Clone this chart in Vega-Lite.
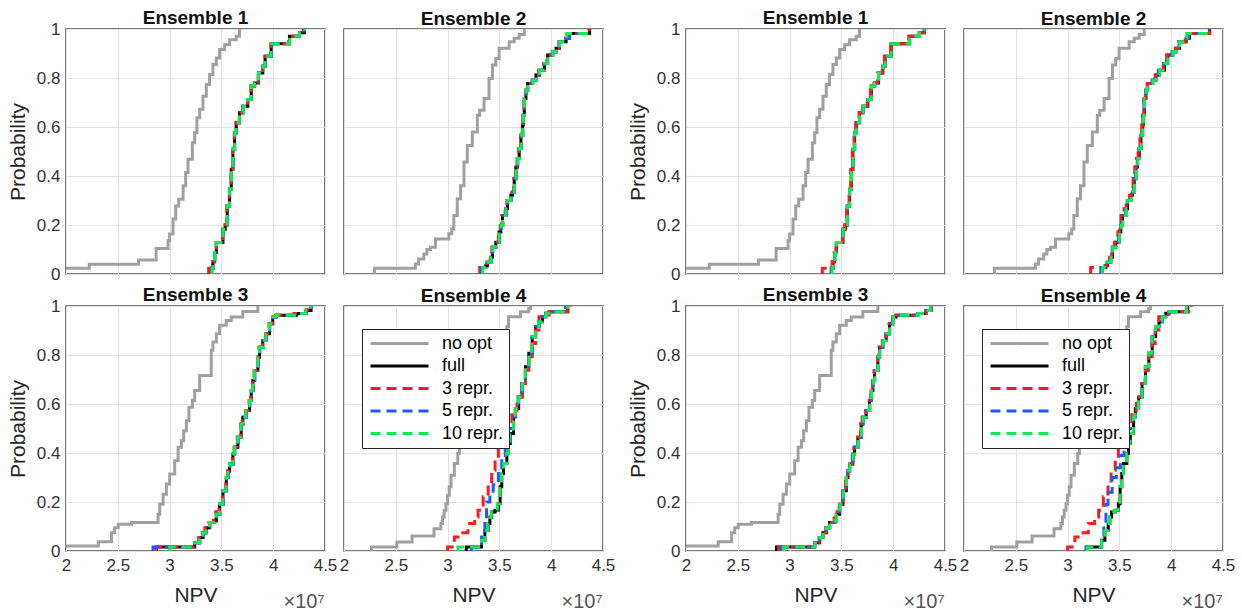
{
"$schema": "https://vega.github.io/schema/vega-lite/v6.json",
"padding": {"left": 6, "top": 7, "right": 5, "bottom": 0},
"datasets": {"d": [
{"k":"1","s":"no opt","x":2,"p":0.023},{"k":"1","s":"no opt","x":2.225,"p":0.04},{"k":"1","s":"no opt","x":2.7,"p":0.057},{"k":"1","s":"no opt","x":2.87,"p":0.104},{"k":"1","s":"no opt","x":2.985,"p":0.136},{"k":"1","s":"no opt","x":3.0,"p":0.163},{"k":"1","s":"no opt","x":3.033,"p":0.224},{"k":"1","s":"no opt","x":3.059,"p":0.278},{"k":"1","s":"no opt","x":3.088,"p":0.305},{"k":"1","s":"no opt","x":3.13,"p":0.36},{"k":"1","s":"no opt","x":3.155,"p":0.414},{"k":"1","s":"no opt","x":3.178,"p":0.468},{"k":"1","s":"no opt","x":3.22,"p":0.536},{"k":"1","s":"no opt","x":3.242,"p":0.577},{"k":"1","s":"no opt","x":3.264,"p":0.638},{"k":"1","s":"no opt","x":3.29,"p":0.672},{"k":"1","s":"no opt","x":3.322,"p":0.726},{"k":"1","s":"no opt","x":3.354,"p":0.773},{"k":"1","s":"no opt","x":3.386,"p":0.814},{"k":"1","s":"no opt","x":3.418,"p":0.855},{"k":"1","s":"no opt","x":3.451,"p":0.882},{"k":"1","s":"no opt","x":3.483,"p":0.916},{"k":"1","s":"no opt","x":3.531,"p":0.936},{"k":"1","s":"no opt","x":3.579,"p":0.956},{"k":"1","s":"no opt","x":3.643,"p":0.97},{"k":"1","s":"no opt","x":3.675,"p":1},
{"k":"2","s":"no opt","x":2.294,"p":0},{"k":"2","s":"no opt","x":2.294,"p":0.023},{"k":"2","s":"no opt","x":2.689,"p":0.041},{"k":"2","s":"no opt","x":2.72,"p":0.061},{"k":"2","s":"no opt","x":2.77,"p":0.082},{"k":"2","s":"no opt","x":2.8,"p":0.1},{"k":"2","s":"no opt","x":2.834,"p":0.109},{"k":"2","s":"no opt","x":2.883,"p":0.143},{"k":"2","s":"no opt","x":3.012,"p":0.164},{"k":"2","s":"no opt","x":3.04,"p":0.184},{"k":"2","s":"no opt","x":3.06,"p":0.239},{"k":"2","s":"no opt","x":3.093,"p":0.307},{"k":"2","s":"no opt","x":3.125,"p":0.36},{"k":"2","s":"no opt","x":3.158,"p":0.457},{"k":"2","s":"no opt","x":3.19,"p":0.525},{"k":"2","s":"no opt","x":3.239,"p":0.58},{"k":"2","s":"no opt","x":3.287,"p":0.648},{"k":"2","s":"no opt","x":3.31,"p":0.668},{"k":"2","s":"no opt","x":3.352,"p":0.716},{"k":"2","s":"no opt","x":3.4,"p":0.798},{"k":"2","s":"no opt","x":3.433,"p":0.853},{"k":"2","s":"no opt","x":3.465,"p":0.88},{"k":"2","s":"no opt","x":3.497,"p":0.921},{"k":"2","s":"no opt","x":3.594,"p":0.948},{"k":"2","s":"no opt","x":3.643,"p":0.962},{"k":"2","s":"no opt","x":3.691,"p":0.978},{"k":"2","s":"no opt","x":3.74,"p":1},
{"k":"3","s":"no opt","x":2,"p":0.02},{"k":"3","s":"no opt","x":2.311,"p":0.038},{"k":"3","s":"no opt","x":2.44,"p":0.075},{"k":"3","s":"no opt","x":2.47,"p":0.095},{"k":"3","s":"no opt","x":2.504,"p":0.109},{"k":"3","s":"no opt","x":2.632,"p":0.116},{"k":"3","s":"no opt","x":2.889,"p":0.15},{"k":"3","s":"no opt","x":2.905,"p":0.191},{"k":"3","s":"no opt","x":2.937,"p":0.232},{"k":"3","s":"no opt","x":2.969,"p":0.273},{"k":"3","s":"no opt","x":3.001,"p":0.314},{"k":"3","s":"no opt","x":3.049,"p":0.368},{"k":"3","s":"no opt","x":3.082,"p":0.423},{"k":"3","s":"no opt","x":3.114,"p":0.45},{"k":"3","s":"no opt","x":3.136,"p":0.491},{"k":"3","s":"no opt","x":3.162,"p":0.532},{"k":"3","s":"no opt","x":3.187,"p":0.587},{"k":"3","s":"no opt","x":3.22,"p":0.614},{"k":"3","s":"no opt","x":3.242,"p":0.655},{"k":"3","s":"no opt","x":3.29,"p":0.716},{"k":"3","s":"no opt","x":3.402,"p":0.819},{"k":"3","s":"no opt","x":3.418,"p":0.853},{"k":"3","s":"no opt","x":3.451,"p":0.887},{"k":"3","s":"no opt","x":3.483,"p":0.921},{"k":"3","s":"no opt","x":3.547,"p":0.941},{"k":"3","s":"no opt","x":3.595,"p":0.955},{"k":"3","s":"no opt","x":3.707,"p":0.978},{"k":"3","s":"no opt","x":3.852,"p":1},
{"k":"4","s":"no opt","x":2.265,"p":0},{"k":"4","s":"no opt","x":2.265,"p":0.016},{"k":"4","s":"no opt","x":2.51,"p":0.037},{"k":"4","s":"no opt","x":2.657,"p":0.061},{"k":"4","s":"no opt","x":2.869,"p":0.091},{"k":"4","s":"no opt","x":2.935,"p":0.112},{"k":"4","s":"no opt","x":2.951,"p":0.139},{"k":"4","s":"no opt","x":2.967,"p":0.166},{"k":"4","s":"no opt","x":2.984,"p":0.193},{"k":"4","s":"no opt","x":3,"p":0.228},{"k":"4","s":"no opt","x":3.016,"p":0.262},{"k":"4","s":"no opt","x":3.033,"p":0.309},{"k":"4","s":"no opt","x":3.065,"p":0.357},{"k":"4","s":"no opt","x":3.098,"p":0.398},{"k":"4","s":"no opt","x":3.114,"p":0.439},{"k":"4","s":"no opt","x":3.14,"p":0.5},{"k":"4","s":"no opt","x":3.18,"p":0.56},{"k":"4","s":"no opt","x":3.22,"p":0.62},{"k":"4","s":"no opt","x":3.27,"p":0.68},{"k":"4","s":"no opt","x":3.32,"p":0.74},{"k":"4","s":"no opt","x":3.38,"p":0.8},{"k":"4","s":"no opt","x":3.45,"p":0.86},{"k":"4","s":"no opt","x":3.53,"p":0.9},{"k":"4","s":"no opt","x":3.572,"p":0.916},{"k":"4","s":"no opt","x":3.588,"p":0.956},{"k":"4","s":"no opt","x":3.703,"p":0.977},{"k":"4","s":"no opt","x":3.784,"p":0.99},{"k":"4","s":"no opt","x":3.8,"p":1},
{"k":"1","s":"full","x":3.402,"p":0},{"k":"1","s":"full","x":3.402,"p":0.023},{"k":"1","s":"full","x":3.418,"p":0.05},{"k":"1","s":"full","x":3.435,"p":0.088},{"k":"1","s":"full","x":3.451,"p":0.129},{"k":"1","s":"full","x":3.515,"p":0.183},{"k":"1","s":"full","x":3.537,"p":0.2},{"k":"1","s":"full","x":3.556,"p":0.278},{"k":"1","s":"full","x":3.579,"p":0.346},{"k":"1","s":"full","x":3.595,"p":0.427},{"k":"1","s":"full","x":3.611,"p":0.509},{"k":"1","s":"full","x":3.627,"p":0.577},{"k":"1","s":"full","x":3.643,"p":0.617},{"k":"1","s":"full","x":3.675,"p":0.658},{"k":"1","s":"full","x":3.707,"p":0.685},{"k":"1","s":"full","x":3.755,"p":0.712},{"k":"1","s":"full","x":3.788,"p":0.767},{"k":"1","s":"full","x":3.82,"p":0.78},{"k":"1","s":"full","x":3.858,"p":0.82},{"k":"1","s":"full","x":3.9,"p":0.848},{"k":"1","s":"full","x":3.922,"p":0.889},{"k":"1","s":"full","x":3.98,"p":0.94},{"k":"1","s":"full","x":4.157,"p":0.97},{"k":"1","s":"full","x":4.253,"p":0.985},{"k":"1","s":"full","x":4.3,"p":1},
{"k":"2","s":"full","x":3.336,"p":0},{"k":"2","s":"full","x":3.336,"p":0.027},{"k":"2","s":"full","x":3.368,"p":0.034},{"k":"2","s":"full","x":3.384,"p":0.048},{"k":"2","s":"full","x":3.417,"p":0.068},{"k":"2","s":"full","x":3.433,"p":0.109},{"k":"2","s":"full","x":3.465,"p":0.13},{"k":"2","s":"full","x":3.497,"p":0.171},{"k":"2","s":"full","x":3.514,"p":0.198},{"k":"2","s":"full","x":3.53,"p":0.239},{"k":"2","s":"full","x":3.562,"p":0.266},{"k":"2","s":"full","x":3.578,"p":0.3},{"k":"2","s":"full","x":3.611,"p":0.321},{"k":"2","s":"full","x":3.627,"p":0.334},{"k":"2","s":"full","x":3.643,"p":0.389},{"k":"2","s":"full","x":3.659,"p":0.437},{"k":"2","s":"full","x":3.675,"p":0.471},{"k":"2","s":"full","x":3.691,"p":0.512},{"k":"2","s":"full","x":3.708,"p":0.566},{"k":"2","s":"full","x":3.724,"p":0.607},{"k":"2","s":"full","x":3.73,"p":0.648},{"k":"2","s":"full","x":3.74,"p":0.716},{"k":"2","s":"full","x":3.756,"p":0.75},{"k":"2","s":"full","x":3.772,"p":0.778},{"k":"2","s":"full","x":3.821,"p":0.791},{"k":"2","s":"full","x":3.853,"p":0.812},{"k":"2","s":"full","x":3.886,"p":0.832},{"k":"2","s":"full","x":3.934,"p":0.859},{"k":"2","s":"full","x":3.966,"p":0.894},{"k":"2","s":"full","x":4.015,"p":0.907},{"k":"2","s":"full","x":4.047,"p":0.921},{"k":"2","s":"full","x":4.08,"p":0.948},{"k":"2","s":"full","x":4.144,"p":0.962},{"k":"2","s":"full","x":4.177,"p":0.982},{"k":"2","s":"full","x":4.371,"p":1},
{"k":"3","s":"full","x":2.873,"p":0},{"k":"3","s":"full","x":2.873,"p":0.016},{"k":"3","s":"full","x":3.242,"p":0.034},{"k":"3","s":"full","x":3.29,"p":0.055},{"k":"3","s":"full","x":3.322,"p":0.075},{"k":"3","s":"full","x":3.354,"p":0.095},{"k":"3","s":"full","x":3.386,"p":0.116},{"k":"3","s":"full","x":3.435,"p":0.123},{"k":"3","s":"full","x":3.451,"p":0.15},{"k":"3","s":"full","x":3.483,"p":0.191},{"k":"3","s":"full","x":3.515,"p":0.246},{"k":"3","s":"full","x":3.547,"p":0.3},{"k":"3","s":"full","x":3.563,"p":0.327},{"k":"3","s":"full","x":3.579,"p":0.355},{"k":"3","s":"full","x":3.611,"p":0.396},{"k":"3","s":"full","x":3.627,"p":0.423},{"k":"3","s":"full","x":3.659,"p":0.464},{"k":"3","s":"full","x":3.691,"p":0.518},{"k":"3","s":"full","x":3.707,"p":0.546},{"k":"3","s":"full","x":3.739,"p":0.573},{"k":"3","s":"full","x":3.772,"p":0.614},{"k":"3","s":"full","x":3.788,"p":0.655},{"k":"3","s":"full","x":3.804,"p":0.696},{"k":"3","s":"full","x":3.82,"p":0.737},{"k":"3","s":"full","x":3.852,"p":0.791},{"k":"3","s":"full","x":3.868,"p":0.832},{"k":"3","s":"full","x":3.9,"p":0.859},{"k":"3","s":"full","x":3.932,"p":0.887},{"k":"3","s":"full","x":3.964,"p":0.928},{"k":"3","s":"full","x":3.996,"p":0.955},{"k":"3","s":"full","x":4.028,"p":0.962},{"k":"3","s":"full","x":4.237,"p":0.969},{"k":"3","s":"full","x":4.317,"p":0.982},{"k":"3","s":"full","x":4.365,"p":1},
{"k":"4","s":"full","x":3.18,"p":0},{"k":"4","s":"full","x":3.18,"p":0.016},{"k":"4","s":"full","x":3.327,"p":0.044},{"k":"4","s":"full","x":3.36,"p":0.084},{"k":"4","s":"full","x":3.392,"p":0.112},{"k":"4","s":"full","x":3.408,"p":0.139},{"k":"4","s":"full","x":3.425,"p":0.159},{"k":"4","s":"full","x":3.458,"p":0.166},{"k":"4","s":"full","x":3.49,"p":0.193},{"k":"4","s":"full","x":3.507,"p":0.262},{"k":"4","s":"full","x":3.523,"p":0.316},{"k":"4","s":"full","x":3.539,"p":0.357},{"k":"4","s":"full","x":3.572,"p":0.398},{"k":"4","s":"full","x":3.588,"p":0.439},{"k":"4","s":"full","x":3.605,"p":0.48},{"k":"4","s":"full","x":3.637,"p":0.548},{"k":"4","s":"full","x":3.654,"p":0.582},{"k":"4","s":"full","x":3.686,"p":0.629},{"k":"4","s":"full","x":3.719,"p":0.684},{"k":"4","s":"full","x":3.752,"p":0.752},{"k":"4","s":"full","x":3.784,"p":0.807},{"k":"4","s":"full","x":3.817,"p":0.875},{"k":"4","s":"full","x":3.85,"p":0.916},{"k":"4","s":"full","x":3.882,"p":0.936},{"k":"4","s":"full","x":3.915,"p":0.956},{"k":"4","s":"full","x":3.948,"p":0.97},{"k":"4","s":"full","x":3.98,"p":0.977},{"k":"4","s":"full","x":4.16,"p":1},
{"k":"L1","s":"3 repr.","x":3.377,"p":0},{"k":"L1","s":"3 repr.","x":3.377,"p":0.023},{"k":"L1","s":"3 repr.","x":3.418,"p":0.05},{"k":"L1","s":"3 repr.","x":3.433,"p":0.088},{"k":"L1","s":"3 repr.","x":3.45,"p":0.129},{"k":"L1","s":"3 repr.","x":3.512,"p":0.183},{"k":"L1","s":"3 repr.","x":3.535,"p":0.2},{"k":"L1","s":"3 repr.","x":3.553,"p":0.278},{"k":"L1","s":"3 repr.","x":3.576,"p":0.346},{"k":"L1","s":"3 repr.","x":3.593,"p":0.427},{"k":"L1","s":"3 repr.","x":3.609,"p":0.509},{"k":"L1","s":"3 repr.","x":3.624,"p":0.577},{"k":"L1","s":"3 repr.","x":3.64,"p":0.617},{"k":"L1","s":"3 repr.","x":3.672,"p":0.658},{"k":"L1","s":"3 repr.","x":3.705,"p":0.685},{"k":"L1","s":"3 repr.","x":3.752,"p":0.712},{"k":"L1","s":"3 repr.","x":3.785,"p":0.767},{"k":"L1","s":"3 repr.","x":3.818,"p":0.78},{"k":"L1","s":"3 repr.","x":3.855,"p":0.82},{"k":"L1","s":"3 repr.","x":3.898,"p":0.848},{"k":"L1","s":"3 repr.","x":3.92,"p":0.889},{"k":"L1","s":"3 repr.","x":3.978,"p":0.94},{"k":"L1","s":"3 repr.","x":4.15,"p":0.97},{"k":"L1","s":"3 repr.","x":4.25,"p":0.985},{"k":"L1","s":"3 repr.","x":4.29,"p":1},
{"k":"L1","s":"5 repr.","x":3.405,"p":0},{"k":"L1","s":"5 repr.","x":3.405,"p":0.023},{"k":"L1","s":"5 repr.","x":3.42,"p":0.05},{"k":"L1","s":"5 repr.","x":3.437,"p":0.088},{"k":"L1","s":"5 repr.","x":3.452,"p":0.129},{"k":"L1","s":"5 repr.","x":3.517,"p":0.183},{"k":"L1","s":"5 repr.","x":3.538,"p":0.2},{"k":"L1","s":"5 repr.","x":3.557,"p":0.278},{"k":"L1","s":"5 repr.","x":3.58,"p":0.346},{"k":"L1","s":"5 repr.","x":3.596,"p":0.427},{"k":"L1","s":"5 repr.","x":3.612,"p":0.509},{"k":"L1","s":"5 repr.","x":3.628,"p":0.577},{"k":"L1","s":"5 repr.","x":3.644,"p":0.617},{"k":"L1","s":"5 repr.","x":3.676,"p":0.658},{"k":"L1","s":"5 repr.","x":3.708,"p":0.685},{"k":"L1","s":"5 repr.","x":3.756,"p":0.712},{"k":"L1","s":"5 repr.","x":3.789,"p":0.767},{"k":"L1","s":"5 repr.","x":3.821,"p":0.78},{"k":"L1","s":"5 repr.","x":3.859,"p":0.82},{"k":"L1","s":"5 repr.","x":3.901,"p":0.848},{"k":"L1","s":"5 repr.","x":3.923,"p":0.889},{"k":"L1","s":"5 repr.","x":3.981,"p":0.94},{"k":"L1","s":"5 repr.","x":4.158,"p":0.97},{"k":"L1","s":"5 repr.","x":4.254,"p":0.985},{"k":"L1","s":"5 repr.","x":4.302,"p":1},
{"k":"L1","s":"10 repr.","x":3.41,"p":0},{"k":"L1","s":"10 repr.","x":3.41,"p":0.023},{"k":"L1","s":"10 repr.","x":3.421,"p":0.05},{"k":"L1","s":"10 repr.","x":3.436,"p":0.088},{"k":"L1","s":"10 repr.","x":3.453,"p":0.129},{"k":"L1","s":"10 repr.","x":3.516,"p":0.183},{"k":"L1","s":"10 repr.","x":3.539,"p":0.2},{"k":"L1","s":"10 repr.","x":3.555,"p":0.278},{"k":"L1","s":"10 repr.","x":3.578,"p":0.346},{"k":"L1","s":"10 repr.","x":3.597,"p":0.427},{"k":"L1","s":"10 repr.","x":3.61,"p":0.509},{"k":"L1","s":"10 repr.","x":3.629,"p":0.577},{"k":"L1","s":"10 repr.","x":3.642,"p":0.617},{"k":"L1","s":"10 repr.","x":3.674,"p":0.658},{"k":"L1","s":"10 repr.","x":3.709,"p":0.685},{"k":"L1","s":"10 repr.","x":3.754,"p":0.712},{"k":"L1","s":"10 repr.","x":3.787,"p":0.767},{"k":"L1","s":"10 repr.","x":3.822,"p":0.78},{"k":"L1","s":"10 repr.","x":3.857,"p":0.82},{"k":"L1","s":"10 repr.","x":3.902,"p":0.848},{"k":"L1","s":"10 repr.","x":3.921,"p":0.889},{"k":"L1","s":"10 repr.","x":3.979,"p":0.94},{"k":"L1","s":"10 repr.","x":4.16,"p":0.97},{"k":"L1","s":"10 repr.","x":4.255,"p":0.985},{"k":"L1","s":"10 repr.","x":4.305,"p":1},
{"k":"R1","s":"3 repr.","x":3.316,"p":0},{"k":"R1","s":"3 repr.","x":3.316,"p":0.023},{"k":"R1","s":"3 repr.","x":3.41,"p":0.05},{"k":"R1","s":"3 repr.","x":3.43,"p":0.088},{"k":"R1","s":"3 repr.","x":3.448,"p":0.129},{"k":"R1","s":"3 repr.","x":3.51,"p":0.183},{"k":"R1","s":"3 repr.","x":3.532,"p":0.2},{"k":"R1","s":"3 repr.","x":3.55,"p":0.278},{"k":"R1","s":"3 repr.","x":3.574,"p":0.346},{"k":"R1","s":"3 repr.","x":3.59,"p":0.427},{"k":"R1","s":"3 repr.","x":3.606,"p":0.509},{"k":"R1","s":"3 repr.","x":3.622,"p":0.577},{"k":"R1","s":"3 repr.","x":3.638,"p":0.617},{"k":"R1","s":"3 repr.","x":3.67,"p":0.658},{"k":"R1","s":"3 repr.","x":3.7,"p":0.685},{"k":"R1","s":"3 repr.","x":3.75,"p":0.712},{"k":"R1","s":"3 repr.","x":3.78,"p":0.767},{"k":"R1","s":"3 repr.","x":3.815,"p":0.78},{"k":"R1","s":"3 repr.","x":3.85,"p":0.82},{"k":"R1","s":"3 repr.","x":3.895,"p":0.848},{"k":"R1","s":"3 repr.","x":3.915,"p":0.889},{"k":"R1","s":"3 repr.","x":3.975,"p":0.94},{"k":"R1","s":"3 repr.","x":4.15,"p":0.97},{"k":"R1","s":"3 repr.","x":4.25,"p":0.985},{"k":"R1","s":"3 repr.","x":4.3,"p":1},
{"k":"R1","s":"5 repr.","x":3.405,"p":0},{"k":"R1","s":"5 repr.","x":3.405,"p":0.023},{"k":"R1","s":"5 repr.","x":3.422,"p":0.05},{"k":"R1","s":"5 repr.","x":3.437,"p":0.088},{"k":"R1","s":"5 repr.","x":3.454,"p":0.129},{"k":"R1","s":"5 repr.","x":3.517,"p":0.183},{"k":"R1","s":"5 repr.","x":3.54,"p":0.2},{"k":"R1","s":"5 repr.","x":3.558,"p":0.278},{"k":"R1","s":"5 repr.","x":3.58,"p":0.346},{"k":"R1","s":"5 repr.","x":3.597,"p":0.427},{"k":"R1","s":"5 repr.","x":3.613,"p":0.509},{"k":"R1","s":"5 repr.","x":3.629,"p":0.577},{"k":"R1","s":"5 repr.","x":3.645,"p":0.617},{"k":"R1","s":"5 repr.","x":3.677,"p":0.658},{"k":"R1","s":"5 repr.","x":3.709,"p":0.685},{"k":"R1","s":"5 repr.","x":3.757,"p":0.712},{"k":"R1","s":"5 repr.","x":3.79,"p":0.767},{"k":"R1","s":"5 repr.","x":3.822,"p":0.78},{"k":"R1","s":"5 repr.","x":3.86,"p":0.82},{"k":"R1","s":"5 repr.","x":3.902,"p":0.848},{"k":"R1","s":"5 repr.","x":3.924,"p":0.889},{"k":"R1","s":"5 repr.","x":3.982,"p":0.94},{"k":"R1","s":"5 repr.","x":4.16,"p":0.97},{"k":"R1","s":"5 repr.","x":4.255,"p":0.985},{"k":"R1","s":"5 repr.","x":4.303,"p":1},
{"k":"R1","s":"10 repr.","x":3.41,"p":0},{"k":"R1","s":"10 repr.","x":3.41,"p":0.023},{"k":"R1","s":"10 repr.","x":3.42,"p":0.05},{"k":"R1","s":"10 repr.","x":3.436,"p":0.088},{"k":"R1","s":"10 repr.","x":3.452,"p":0.129},{"k":"R1","s":"10 repr.","x":3.516,"p":0.183},{"k":"R1","s":"10 repr.","x":3.538,"p":0.2},{"k":"R1","s":"10 repr.","x":3.557,"p":0.278},{"k":"R1","s":"10 repr.","x":3.579,"p":0.346},{"k":"R1","s":"10 repr.","x":3.596,"p":0.427},{"k":"R1","s":"10 repr.","x":3.612,"p":0.509},{"k":"R1","s":"10 repr.","x":3.628,"p":0.577},{"k":"R1","s":"10 repr.","x":3.644,"p":0.617},{"k":"R1","s":"10 repr.","x":3.676,"p":0.658},{"k":"R1","s":"10 repr.","x":3.708,"p":0.685},{"k":"R1","s":"10 repr.","x":3.756,"p":0.712},{"k":"R1","s":"10 repr.","x":3.789,"p":0.767},{"k":"R1","s":"10 repr.","x":3.821,"p":0.78},{"k":"R1","s":"10 repr.","x":3.859,"p":0.82},{"k":"R1","s":"10 repr.","x":3.901,"p":0.848},{"k":"R1","s":"10 repr.","x":3.923,"p":0.889},{"k":"R1","s":"10 repr.","x":3.981,"p":0.94},{"k":"R1","s":"10 repr.","x":4.158,"p":0.97},{"k":"R1","s":"10 repr.","x":4.254,"p":0.985},{"k":"R1","s":"10 repr.","x":4.305,"p":1},
{"k":"L2","s":"3 repr.","x":3.31,"p":0},{"k":"L2","s":"3 repr.","x":3.31,"p":0.027},{"k":"L2","s":"3 repr.","x":3.362,"p":0.034},{"k":"L2","s":"3 repr.","x":3.378,"p":0.048},{"k":"L2","s":"3 repr.","x":3.41,"p":0.068},{"k":"L2","s":"3 repr.","x":3.427,"p":0.109},{"k":"L2","s":"3 repr.","x":3.458,"p":0.13},{"k":"L2","s":"3 repr.","x":3.49,"p":0.171},{"k":"L2","s":"3 repr.","x":3.508,"p":0.198},{"k":"L2","s":"3 repr.","x":3.522,"p":0.239},{"k":"L2","s":"3 repr.","x":3.555,"p":0.266},{"k":"L2","s":"3 repr.","x":3.572,"p":0.3},{"k":"L2","s":"3 repr.","x":3.605,"p":0.321},{"k":"L2","s":"3 repr.","x":3.62,"p":0.334},{"k":"L2","s":"3 repr.","x":3.638,"p":0.389},{"k":"L2","s":"3 repr.","x":3.654,"p":0.437},{"k":"L2","s":"3 repr.","x":3.67,"p":0.471},{"k":"L2","s":"3 repr.","x":3.686,"p":0.512},{"k":"L2","s":"3 repr.","x":3.703,"p":0.566},{"k":"L2","s":"3 repr.","x":3.72,"p":0.607},{"k":"L2","s":"3 repr.","x":3.726,"p":0.648},{"k":"L2","s":"3 repr.","x":3.736,"p":0.716},{"k":"L2","s":"3 repr.","x":3.752,"p":0.75},{"k":"L2","s":"3 repr.","x":3.768,"p":0.778},{"k":"L2","s":"3 repr.","x":3.815,"p":0.791},{"k":"L2","s":"3 repr.","x":3.848,"p":0.812},{"k":"L2","s":"3 repr.","x":3.88,"p":0.832},{"k":"L2","s":"3 repr.","x":3.928,"p":0.859},{"k":"L2","s":"3 repr.","x":3.96,"p":0.894},{"k":"L2","s":"3 repr.","x":4.01,"p":0.907},{"k":"L2","s":"3 repr.","x":4.04,"p":0.921},{"k":"L2","s":"3 repr.","x":4.075,"p":0.948},{"k":"L2","s":"3 repr.","x":4.14,"p":0.962},{"k":"L2","s":"3 repr.","x":4.172,"p":0.982},{"k":"L2","s":"3 repr.","x":4.365,"p":1},
{"k":"L2","s":"5 repr.","x":3.325,"p":0},{"k":"L2","s":"5 repr.","x":3.325,"p":0.027},{"k":"L2","s":"5 repr.","x":3.37,"p":0.034},{"k":"L2","s":"5 repr.","x":3.386,"p":0.048},{"k":"L2","s":"5 repr.","x":3.42,"p":0.068},{"k":"L2","s":"5 repr.","x":3.436,"p":0.109},{"k":"L2","s":"5 repr.","x":3.468,"p":0.13},{"k":"L2","s":"5 repr.","x":3.5,"p":0.171},{"k":"L2","s":"5 repr.","x":3.517,"p":0.198},{"k":"L2","s":"5 repr.","x":3.534,"p":0.239},{"k":"L2","s":"5 repr.","x":3.566,"p":0.266},{"k":"L2","s":"5 repr.","x":3.581,"p":0.3},{"k":"L2","s":"5 repr.","x":3.614,"p":0.321},{"k":"L2","s":"5 repr.","x":3.63,"p":0.334},{"k":"L2","s":"5 repr.","x":3.646,"p":0.389},{"k":"L2","s":"5 repr.","x":3.662,"p":0.437},{"k":"L2","s":"5 repr.","x":3.678,"p":0.471},{"k":"L2","s":"5 repr.","x":3.694,"p":0.512},{"k":"L2","s":"5 repr.","x":3.711,"p":0.566},{"k":"L2","s":"5 repr.","x":3.727,"p":0.607},{"k":"L2","s":"5 repr.","x":3.733,"p":0.648},{"k":"L2","s":"5 repr.","x":3.743,"p":0.716},{"k":"L2","s":"5 repr.","x":3.759,"p":0.75},{"k":"L2","s":"5 repr.","x":3.775,"p":0.778},{"k":"L2","s":"5 repr.","x":3.818,"p":0.791},{"k":"L2","s":"5 repr.","x":3.85,"p":0.812},{"k":"L2","s":"5 repr.","x":3.883,"p":0.832},{"k":"L2","s":"5 repr.","x":3.93,"p":0.859},{"k":"L2","s":"5 repr.","x":3.962,"p":0.894},{"k":"L2","s":"5 repr.","x":4.012,"p":0.907},{"k":"L2","s":"5 repr.","x":4.044,"p":0.921},{"k":"L2","s":"5 repr.","x":4.077,"p":0.948},{"k":"L2","s":"5 repr.","x":4.14,"p":0.962},{"k":"L2","s":"5 repr.","x":4.175,"p":0.982},{"k":"L2","s":"5 repr.","x":4.368,"p":1},
{"k":"L2","s":"10 repr.","x":3.338,"p":0},{"k":"L2","s":"10 repr.","x":3.338,"p":0.027},{"k":"L2","s":"10 repr.","x":3.369,"p":0.034},{"k":"L2","s":"10 repr.","x":3.385,"p":0.048},{"k":"L2","s":"10 repr.","x":3.418,"p":0.068},{"k":"L2","s":"10 repr.","x":3.434,"p":0.109},{"k":"L2","s":"10 repr.","x":3.466,"p":0.13},{"k":"L2","s":"10 repr.","x":3.498,"p":0.171},{"k":"L2","s":"10 repr.","x":3.515,"p":0.198},{"k":"L2","s":"10 repr.","x":3.531,"p":0.239},{"k":"L2","s":"10 repr.","x":3.563,"p":0.266},{"k":"L2","s":"10 repr.","x":3.579,"p":0.3},{"k":"L2","s":"10 repr.","x":3.612,"p":0.321},{"k":"L2","s":"10 repr.","x":3.628,"p":0.334},{"k":"L2","s":"10 repr.","x":3.644,"p":0.389},{"k":"L2","s":"10 repr.","x":3.66,"p":0.437},{"k":"L2","s":"10 repr.","x":3.676,"p":0.471},{"k":"L2","s":"10 repr.","x":3.692,"p":0.512},{"k":"L2","s":"10 repr.","x":3.709,"p":0.566},{"k":"L2","s":"10 repr.","x":3.725,"p":0.607},{"k":"L2","s":"10 repr.","x":3.731,"p":0.648},{"k":"L2","s":"10 repr.","x":3.741,"p":0.716},{"k":"L2","s":"10 repr.","x":3.757,"p":0.75},{"k":"L2","s":"10 repr.","x":3.773,"p":0.778},{"k":"L2","s":"10 repr.","x":3.822,"p":0.791},{"k":"L2","s":"10 repr.","x":3.854,"p":0.812},{"k":"L2","s":"10 repr.","x":3.887,"p":0.832},{"k":"L2","s":"10 repr.","x":3.935,"p":0.859},{"k":"L2","s":"10 repr.","x":3.967,"p":0.894},{"k":"L2","s":"10 repr.","x":4.016,"p":0.907},{"k":"L2","s":"10 repr.","x":4.048,"p":0.921},{"k":"L2","s":"10 repr.","x":4.081,"p":0.948},{"k":"L2","s":"10 repr.","x":4.145,"p":0.962},{"k":"L2","s":"10 repr.","x":4.15,"p":0.982},{"k":"L2","s":"10 repr.","x":4.37,"p":1},
{"k":"R2","s":"3 repr.","x":3.222,"p":0},{"k":"R2","s":"3 repr.","x":3.222,"p":0.027},{"k":"R2","s":"3 repr.","x":3.36,"p":0.034},{"k":"R2","s":"3 repr.","x":3.375,"p":0.048},{"k":"R2","s":"3 repr.","x":3.405,"p":0.068},{"k":"R2","s":"3 repr.","x":3.425,"p":0.109},{"k":"R2","s":"3 repr.","x":3.452,"p":0.13},{"k":"R2","s":"3 repr.","x":3.485,"p":0.171},{"k":"R2","s":"3 repr.","x":3.5,"p":0.198},{"k":"R2","s":"3 repr.","x":3.515,"p":0.239},{"k":"R2","s":"3 repr.","x":3.545,"p":0.266},{"k":"R2","s":"3 repr.","x":3.565,"p":0.3},{"k":"R2","s":"3 repr.","x":3.598,"p":0.321},{"k":"R2","s":"3 repr.","x":3.615,"p":0.334},{"k":"R2","s":"3 repr.","x":3.632,"p":0.389},{"k":"R2","s":"3 repr.","x":3.648,"p":0.437},{"k":"R2","s":"3 repr.","x":3.664,"p":0.471},{"k":"R2","s":"3 repr.","x":3.68,"p":0.512},{"k":"R2","s":"3 repr.","x":3.698,"p":0.566},{"k":"R2","s":"3 repr.","x":3.715,"p":0.607},{"k":"R2","s":"3 repr.","x":3.722,"p":0.648},{"k":"R2","s":"3 repr.","x":3.735,"p":0.716},{"k":"R2","s":"3 repr.","x":3.75,"p":0.75},{"k":"R2","s":"3 repr.","x":3.768,"p":0.778},{"k":"R2","s":"3 repr.","x":3.81,"p":0.791},{"k":"R2","s":"3 repr.","x":3.845,"p":0.812},{"k":"R2","s":"3 repr.","x":3.875,"p":0.832},{"k":"R2","s":"3 repr.","x":3.925,"p":0.859},{"k":"R2","s":"3 repr.","x":3.955,"p":0.894},{"k":"R2","s":"3 repr.","x":4.005,"p":0.907},{"k":"R2","s":"3 repr.","x":4.04,"p":0.921},{"k":"R2","s":"3 repr.","x":4.07,"p":0.948},{"k":"R2","s":"3 repr.","x":4.135,"p":0.962},{"k":"R2","s":"3 repr.","x":4.17,"p":0.982},{"k":"R2","s":"3 repr.","x":4.37,"p":1},
{"k":"R2","s":"5 repr.","x":3.32,"p":0},{"k":"R2","s":"5 repr.","x":3.32,"p":0.027},{"k":"R2","s":"5 repr.","x":3.365,"p":0.034},{"k":"R2","s":"5 repr.","x":3.38,"p":0.048},{"k":"R2","s":"5 repr.","x":3.412,"p":0.068},{"k":"R2","s":"5 repr.","x":3.43,"p":0.109},{"k":"R2","s":"5 repr.","x":3.46,"p":0.13},{"k":"R2","s":"5 repr.","x":3.492,"p":0.171},{"k":"R2","s":"5 repr.","x":3.51,"p":0.198},{"k":"R2","s":"5 repr.","x":3.525,"p":0.239},{"k":"R2","s":"5 repr.","x":3.558,"p":0.266},{"k":"R2","s":"5 repr.","x":3.575,"p":0.3},{"k":"R2","s":"5 repr.","x":3.607,"p":0.321},{"k":"R2","s":"5 repr.","x":3.624,"p":0.334},{"k":"R2","s":"5 repr.","x":3.64,"p":0.389},{"k":"R2","s":"5 repr.","x":3.656,"p":0.437},{"k":"R2","s":"5 repr.","x":3.672,"p":0.471},{"k":"R2","s":"5 repr.","x":3.688,"p":0.512},{"k":"R2","s":"5 repr.","x":3.705,"p":0.566},{"k":"R2","s":"5 repr.","x":3.721,"p":0.607},{"k":"R2","s":"5 repr.","x":3.728,"p":0.648},{"k":"R2","s":"5 repr.","x":3.738,"p":0.716},{"k":"R2","s":"5 repr.","x":3.754,"p":0.75},{"k":"R2","s":"5 repr.","x":3.77,"p":0.778},{"k":"R2","s":"5 repr.","x":3.815,"p":0.791},{"k":"R2","s":"5 repr.","x":3.84,"p":0.812},{"k":"R2","s":"5 repr.","x":3.875,"p":0.832},{"k":"R2","s":"5 repr.","x":3.925,"p":0.859},{"k":"R2","s":"5 repr.","x":3.96,"p":0.894},{"k":"R2","s":"5 repr.","x":4.008,"p":0.907},{"k":"R2","s":"5 repr.","x":4.04,"p":0.921},{"k":"R2","s":"5 repr.","x":4.075,"p":0.948},{"k":"R2","s":"5 repr.","x":4.13,"p":0.962},{"k":"R2","s":"5 repr.","x":4.17,"p":0.982},{"k":"R2","s":"5 repr.","x":4.368,"p":1},
{"k":"R2","s":"10 repr.","x":3.336,"p":0},{"k":"R2","s":"10 repr.","x":3.336,"p":0.027},{"k":"R2","s":"10 repr.","x":3.37,"p":0.034},{"k":"R2","s":"10 repr.","x":3.386,"p":0.048},{"k":"R2","s":"10 repr.","x":3.419,"p":0.068},{"k":"R2","s":"10 repr.","x":3.435,"p":0.109},{"k":"R2","s":"10 repr.","x":3.467,"p":0.13},{"k":"R2","s":"10 repr.","x":3.499,"p":0.171},{"k":"R2","s":"10 repr.","x":3.516,"p":0.198},{"k":"R2","s":"10 repr.","x":3.532,"p":0.239},{"k":"R2","s":"10 repr.","x":3.564,"p":0.266},{"k":"R2","s":"10 repr.","x":3.58,"p":0.3},{"k":"R2","s":"10 repr.","x":3.613,"p":0.321},{"k":"R2","s":"10 repr.","x":3.629,"p":0.334},{"k":"R2","s":"10 repr.","x":3.645,"p":0.389},{"k":"R2","s":"10 repr.","x":3.661,"p":0.437},{"k":"R2","s":"10 repr.","x":3.677,"p":0.471},{"k":"R2","s":"10 repr.","x":3.693,"p":0.512},{"k":"R2","s":"10 repr.","x":3.71,"p":0.566},{"k":"R2","s":"10 repr.","x":3.726,"p":0.607},{"k":"R2","s":"10 repr.","x":3.732,"p":0.648},{"k":"R2","s":"10 repr.","x":3.742,"p":0.716},{"k":"R2","s":"10 repr.","x":3.758,"p":0.75},{"k":"R2","s":"10 repr.","x":3.774,"p":0.778},{"k":"R2","s":"10 repr.","x":3.823,"p":0.791},{"k":"R2","s":"10 repr.","x":3.855,"p":0.812},{"k":"R2","s":"10 repr.","x":3.888,"p":0.832},{"k":"R2","s":"10 repr.","x":3.936,"p":0.859},{"k":"R2","s":"10 repr.","x":3.968,"p":0.894},{"k":"R2","s":"10 repr.","x":4.017,"p":0.907},{"k":"R2","s":"10 repr.","x":4.049,"p":0.921},{"k":"R2","s":"10 repr.","x":4.082,"p":0.948},{"k":"R2","s":"10 repr.","x":4.146,"p":0.962},{"k":"R2","s":"10 repr.","x":4.15,"p":0.982},{"k":"R2","s":"10 repr.","x":4.37,"p":1},
{"k":"L3","s":"3 repr.","x":2.87,"p":0},{"k":"L3","s":"3 repr.","x":2.87,"p":0.016},{"k":"L3","s":"3 repr.","x":3.235,"p":0.034},{"k":"L3","s":"3 repr.","x":3.28,"p":0.055},{"k":"L3","s":"3 repr.","x":3.315,"p":0.075},{"k":"L3","s":"3 repr.","x":3.34,"p":0.095},{"k":"L3","s":"3 repr.","x":3.38,"p":0.116},{"k":"L3","s":"3 repr.","x":3.425,"p":0.15},{"k":"L3","s":"3 repr.","x":3.445,"p":0.16},{"k":"L3","s":"3 repr.","x":3.478,"p":0.191},{"k":"L3","s":"3 repr.","x":3.51,"p":0.246},{"k":"L3","s":"3 repr.","x":3.542,"p":0.3},{"k":"L3","s":"3 repr.","x":3.558,"p":0.327},{"k":"L3","s":"3 repr.","x":3.574,"p":0.355},{"k":"L3","s":"3 repr.","x":3.606,"p":0.396},{"k":"L3","s":"3 repr.","x":3.622,"p":0.423},{"k":"L3","s":"3 repr.","x":3.652,"p":0.464},{"k":"L3","s":"3 repr.","x":3.686,"p":0.518},{"k":"L3","s":"3 repr.","x":3.702,"p":0.546},{"k":"L3","s":"3 repr.","x":3.734,"p":0.573},{"k":"L3","s":"3 repr.","x":3.767,"p":0.614},{"k":"L3","s":"3 repr.","x":3.783,"p":0.655},{"k":"L3","s":"3 repr.","x":3.8,"p":0.696},{"k":"L3","s":"3 repr.","x":3.815,"p":0.737},{"k":"L3","s":"3 repr.","x":3.848,"p":0.791},{"k":"L3","s":"3 repr.","x":3.863,"p":0.832},{"k":"L3","s":"3 repr.","x":3.895,"p":0.859},{"k":"L3","s":"3 repr.","x":3.927,"p":0.887},{"k":"L3","s":"3 repr.","x":3.96,"p":0.928},{"k":"L3","s":"3 repr.","x":3.992,"p":0.955},{"k":"L3","s":"3 repr.","x":4.024,"p":0.962},{"k":"L3","s":"3 repr.","x":4.2,"p":0.969},{"k":"L3","s":"3 repr.","x":4.32,"p":0.985},{"k":"L3","s":"3 repr.","x":4.37,"p":1},
{"k":"L3","s":"5 repr.","x":2.84,"p":0},{"k":"L3","s":"5 repr.","x":2.84,"p":0.016},{"k":"L3","s":"5 repr.","x":3.245,"p":0.034},{"k":"L3","s":"5 repr.","x":3.292,"p":0.055},{"k":"L3","s":"5 repr.","x":3.324,"p":0.075},{"k":"L3","s":"5 repr.","x":3.356,"p":0.095},{"k":"L3","s":"5 repr.","x":3.39,"p":0.116},{"k":"L3","s":"5 repr.","x":3.438,"p":0.123},{"k":"L3","s":"5 repr.","x":3.454,"p":0.15},{"k":"L3","s":"5 repr.","x":3.486,"p":0.191},{"k":"L3","s":"5 repr.","x":3.518,"p":0.246},{"k":"L3","s":"5 repr.","x":3.55,"p":0.3},{"k":"L3","s":"5 repr.","x":3.566,"p":0.327},{"k":"L3","s":"5 repr.","x":3.582,"p":0.355},{"k":"L3","s":"5 repr.","x":3.614,"p":0.396},{"k":"L3","s":"5 repr.","x":3.63,"p":0.423},{"k":"L3","s":"5 repr.","x":3.662,"p":0.464},{"k":"L3","s":"5 repr.","x":3.694,"p":0.518},{"k":"L3","s":"5 repr.","x":3.71,"p":0.546},{"k":"L3","s":"5 repr.","x":3.742,"p":0.573},{"k":"L3","s":"5 repr.","x":3.775,"p":0.614},{"k":"L3","s":"5 repr.","x":3.791,"p":0.655},{"k":"L3","s":"5 repr.","x":3.807,"p":0.696},{"k":"L3","s":"5 repr.","x":3.823,"p":0.737},{"k":"L3","s":"5 repr.","x":3.855,"p":0.791},{"k":"L3","s":"5 repr.","x":3.871,"p":0.832},{"k":"L3","s":"5 repr.","x":3.903,"p":0.859},{"k":"L3","s":"5 repr.","x":3.935,"p":0.887},{"k":"L3","s":"5 repr.","x":3.967,"p":0.928},{"k":"L3","s":"5 repr.","x":3.999,"p":0.955},{"k":"L3","s":"5 repr.","x":4.03,"p":0.962},{"k":"L3","s":"5 repr.","x":4.24,"p":0.969},{"k":"L3","s":"5 repr.","x":4.32,"p":0.982},{"k":"L3","s":"5 repr.","x":4.367,"p":1},
{"k":"L3","s":"10 repr.","x":3.0,"p":0},{"k":"L3","s":"10 repr.","x":3.0,"p":0.016},{"k":"L3","s":"10 repr.","x":3.24,"p":0.034},{"k":"L3","s":"10 repr.","x":3.288,"p":0.055},{"k":"L3","s":"10 repr.","x":3.32,"p":0.075},{"k":"L3","s":"10 repr.","x":3.352,"p":0.095},{"k":"L3","s":"10 repr.","x":3.384,"p":0.116},{"k":"L3","s":"10 repr.","x":3.433,"p":0.123},{"k":"L3","s":"10 repr.","x":3.449,"p":0.15},{"k":"L3","s":"10 repr.","x":3.481,"p":0.191},{"k":"L3","s":"10 repr.","x":3.513,"p":0.246},{"k":"L3","s":"10 repr.","x":3.545,"p":0.3},{"k":"L3","s":"10 repr.","x":3.561,"p":0.327},{"k":"L3","s":"10 repr.","x":3.577,"p":0.355},{"k":"L3","s":"10 repr.","x":3.609,"p":0.396},{"k":"L3","s":"10 repr.","x":3.625,"p":0.423},{"k":"L3","s":"10 repr.","x":3.657,"p":0.464},{"k":"L3","s":"10 repr.","x":3.689,"p":0.518},{"k":"L3","s":"10 repr.","x":3.705,"p":0.546},{"k":"L3","s":"10 repr.","x":3.737,"p":0.573},{"k":"L3","s":"10 repr.","x":3.77,"p":0.614},{"k":"L3","s":"10 repr.","x":3.786,"p":0.655},{"k":"L3","s":"10 repr.","x":3.802,"p":0.696},{"k":"L3","s":"10 repr.","x":3.818,"p":0.737},{"k":"L3","s":"10 repr.","x":3.85,"p":0.791},{"k":"L3","s":"10 repr.","x":3.866,"p":0.832},{"k":"L3","s":"10 repr.","x":3.898,"p":0.859},{"k":"L3","s":"10 repr.","x":3.93,"p":0.887},{"k":"L3","s":"10 repr.","x":3.962,"p":0.928},{"k":"L3","s":"10 repr.","x":3.994,"p":0.955},{"k":"L3","s":"10 repr.","x":4.026,"p":0.962},{"k":"L3","s":"10 repr.","x":4.235,"p":0.969},{"k":"L3","s":"10 repr.","x":4.315,"p":0.982},{"k":"L3","s":"10 repr.","x":4.363,"p":1},
{"k":"R3","s":"3 repr.","x":2.895,"p":0},{"k":"R3","s":"3 repr.","x":2.895,"p":0.016},{"k":"R3","s":"3 repr.","x":3.238,"p":0.034},{"k":"R3","s":"3 repr.","x":3.285,"p":0.055},{"k":"R3","s":"3 repr.","x":3.318,"p":0.075},{"k":"R3","s":"3 repr.","x":3.35,"p":0.095},{"k":"R3","s":"3 repr.","x":3.375,"p":0.116},{"k":"R3","s":"3 repr.","x":3.43,"p":0.15},{"k":"R3","s":"3 repr.","x":3.44,"p":0.16},{"k":"R3","s":"3 repr.","x":3.478,"p":0.191},{"k":"R3","s":"3 repr.","x":3.51,"p":0.246},{"k":"R3","s":"3 repr.","x":3.54,"p":0.3},{"k":"R3","s":"3 repr.","x":3.56,"p":0.327},{"k":"R3","s":"3 repr.","x":3.575,"p":0.355},{"k":"R3","s":"3 repr.","x":3.605,"p":0.396},{"k":"R3","s":"3 repr.","x":3.62,"p":0.423},{"k":"R3","s":"3 repr.","x":3.655,"p":0.464},{"k":"R3","s":"3 repr.","x":3.685,"p":0.518},{"k":"R3","s":"3 repr.","x":3.7,"p":0.546},{"k":"R3","s":"3 repr.","x":3.735,"p":0.573},{"k":"R3","s":"3 repr.","x":3.768,"p":0.614},{"k":"R3","s":"3 repr.","x":3.785,"p":0.655},{"k":"R3","s":"3 repr.","x":3.8,"p":0.696},{"k":"R3","s":"3 repr.","x":3.815,"p":0.737},{"k":"R3","s":"3 repr.","x":3.85,"p":0.791},{"k":"R3","s":"3 repr.","x":3.862,"p":0.832},{"k":"R3","s":"3 repr.","x":3.895,"p":0.859},{"k":"R3","s":"3 repr.","x":3.928,"p":0.887},{"k":"R3","s":"3 repr.","x":3.96,"p":0.928},{"k":"R3","s":"3 repr.","x":3.993,"p":0.955},{"k":"R3","s":"3 repr.","x":4.025,"p":0.962},{"k":"R3","s":"3 repr.","x":4.235,"p":0.969},{"k":"R3","s":"3 repr.","x":4.315,"p":0.982},{"k":"R3","s":"3 repr.","x":4.37,"p":1},
{"k":"R3","s":"5 repr.","x":2.92,"p":0},{"k":"R3","s":"5 repr.","x":2.92,"p":0.016},{"k":"R3","s":"5 repr.","x":3.243,"p":0.034},{"k":"R3","s":"5 repr.","x":3.291,"p":0.055},{"k":"R3","s":"5 repr.","x":3.323,"p":0.075},{"k":"R3","s":"5 repr.","x":3.355,"p":0.095},{"k":"R3","s":"5 repr.","x":3.387,"p":0.116},{"k":"R3","s":"5 repr.","x":3.436,"p":0.123},{"k":"R3","s":"5 repr.","x":3.452,"p":0.15},{"k":"R3","s":"5 repr.","x":3.484,"p":0.191},{"k":"R3","s":"5 repr.","x":3.516,"p":0.246},{"k":"R3","s":"5 repr.","x":3.548,"p":0.3},{"k":"R3","s":"5 repr.","x":3.564,"p":0.327},{"k":"R3","s":"5 repr.","x":3.58,"p":0.355},{"k":"R3","s":"5 repr.","x":3.612,"p":0.396},{"k":"R3","s":"5 repr.","x":3.628,"p":0.423},{"k":"R3","s":"5 repr.","x":3.66,"p":0.464},{"k":"R3","s":"5 repr.","x":3.692,"p":0.518},{"k":"R3","s":"5 repr.","x":3.708,"p":0.546},{"k":"R3","s":"5 repr.","x":3.74,"p":0.573},{"k":"R3","s":"5 repr.","x":3.773,"p":0.614},{"k":"R3","s":"5 repr.","x":3.789,"p":0.655},{"k":"R3","s":"5 repr.","x":3.805,"p":0.696},{"k":"R3","s":"5 repr.","x":3.821,"p":0.737},{"k":"R3","s":"5 repr.","x":3.853,"p":0.791},{"k":"R3","s":"5 repr.","x":3.869,"p":0.832},{"k":"R3","s":"5 repr.","x":3.901,"p":0.859},{"k":"R3","s":"5 repr.","x":3.933,"p":0.887},{"k":"R3","s":"5 repr.","x":3.965,"p":0.928},{"k":"R3","s":"5 repr.","x":3.997,"p":0.955},{"k":"R3","s":"5 repr.","x":4.029,"p":0.962},{"k":"R3","s":"5 repr.","x":4.238,"p":0.969},{"k":"R3","s":"5 repr.","x":4.318,"p":0.982},{"k":"R3","s":"5 repr.","x":4.366,"p":1},
{"k":"R3","s":"10 repr.","x":2.94,"p":0},{"k":"R3","s":"10 repr.","x":2.94,"p":0.016},{"k":"R3","s":"10 repr.","x":3.244,"p":0.034},{"k":"R3","s":"10 repr.","x":3.292,"p":0.055},{"k":"R3","s":"10 repr.","x":3.324,"p":0.075},{"k":"R3","s":"10 repr.","x":3.356,"p":0.095},{"k":"R3","s":"10 repr.","x":3.388,"p":0.116},{"k":"R3","s":"10 repr.","x":3.437,"p":0.123},{"k":"R3","s":"10 repr.","x":3.453,"p":0.15},{"k":"R3","s":"10 repr.","x":3.485,"p":0.191},{"k":"R3","s":"10 repr.","x":3.517,"p":0.246},{"k":"R3","s":"10 repr.","x":3.549,"p":0.3},{"k":"R3","s":"10 repr.","x":3.565,"p":0.327},{"k":"R3","s":"10 repr.","x":3.581,"p":0.355},{"k":"R3","s":"10 repr.","x":3.613,"p":0.396},{"k":"R3","s":"10 repr.","x":3.629,"p":0.423},{"k":"R3","s":"10 repr.","x":3.661,"p":0.464},{"k":"R3","s":"10 repr.","x":3.693,"p":0.518},{"k":"R3","s":"10 repr.","x":3.709,"p":0.546},{"k":"R3","s":"10 repr.","x":3.741,"p":0.573},{"k":"R3","s":"10 repr.","x":3.774,"p":0.614},{"k":"R3","s":"10 repr.","x":3.79,"p":0.655},{"k":"R3","s":"10 repr.","x":3.806,"p":0.696},{"k":"R3","s":"10 repr.","x":3.822,"p":0.737},{"k":"R3","s":"10 repr.","x":3.854,"p":0.791},{"k":"R3","s":"10 repr.","x":3.87,"p":0.832},{"k":"R3","s":"10 repr.","x":3.902,"p":0.859},{"k":"R3","s":"10 repr.","x":3.934,"p":0.887},{"k":"R3","s":"10 repr.","x":3.966,"p":0.928},{"k":"R3","s":"10 repr.","x":3.998,"p":0.955},{"k":"R3","s":"10 repr.","x":4.03,"p":0.962},{"k":"R3","s":"10 repr.","x":4.24,"p":0.969},{"k":"R3","s":"10 repr.","x":4.32,"p":0.982},{"k":"R3","s":"10 repr.","x":4.36,"p":1},
{"k":"L4","s":"3 repr.","x":3.0,"p":0},{"k":"L4","s":"3 repr.","x":3.0,"p":0.016},{"k":"L4","s":"3 repr.","x":3.065,"p":0.057},{"k":"L4","s":"3 repr.","x":3.147,"p":0.075},{"k":"L4","s":"3 repr.","x":3.196,"p":0.112},{"k":"L4","s":"3 repr.","x":3.261,"p":0.139},{"k":"L4","s":"3 repr.","x":3.294,"p":0.166},{"k":"L4","s":"3 repr.","x":3.343,"p":0.221},{"k":"L4","s":"3 repr.","x":3.392,"p":0.275},{"k":"L4","s":"3 repr.","x":3.425,"p":0.33},{"k":"L4","s":"3 repr.","x":3.458,"p":0.371},{"k":"L4","s":"3 repr.","x":3.49,"p":0.425},{"k":"L4","s":"3 repr.","x":3.523,"p":0.48},{"k":"L4","s":"3 repr.","x":3.572,"p":0.52},{"k":"L4","s":"3 repr.","x":3.621,"p":0.575},{"k":"L4","s":"3 repr.","x":3.67,"p":0.629},{"k":"L4","s":"3 repr.","x":3.719,"p":0.684},{"k":"L4","s":"3 repr.","x":3.752,"p":0.738},{"k":"L4","s":"3 repr.","x":3.784,"p":0.793},{"k":"L4","s":"3 repr.","x":3.817,"p":0.847},{"k":"L4","s":"3 repr.","x":3.85,"p":0.902},{"k":"L4","s":"3 repr.","x":3.882,"p":0.956},{"k":"L4","s":"3 repr.","x":3.98,"p":0.977},{"k":"L4","s":"3 repr.","x":4.16,"p":0.984},{"k":"L4","s":"3 repr.","x":4.193,"p":1},
{"k":"L4","s":"5 repr.","x":3.23,"p":0},{"k":"L4","s":"5 repr.","x":3.23,"p":0.016},{"k":"L4","s":"5 repr.","x":3.327,"p":0.057},{"k":"L4","s":"5 repr.","x":3.36,"p":0.112},{"k":"L4","s":"5 repr.","x":3.376,"p":0.2},{"k":"L4","s":"5 repr.","x":3.408,"p":0.23},{"k":"L4","s":"5 repr.","x":3.44,"p":0.27},{"k":"L4","s":"5 repr.","x":3.49,"p":0.33},{"k":"L4","s":"5 repr.","x":3.523,"p":0.39},{"k":"L4","s":"5 repr.","x":3.556,"p":0.45},{"k":"L4","s":"5 repr.","x":3.605,"p":0.5},{"k":"L4","s":"5 repr.","x":3.637,"p":0.548},{"k":"L4","s":"5 repr.","x":3.654,"p":0.582},{"k":"L4","s":"5 repr.","x":3.68,"p":0.629},{"k":"L4","s":"5 repr.","x":3.715,"p":0.684},{"k":"L4","s":"5 repr.","x":3.75,"p":0.752},{"k":"L4","s":"5 repr.","x":3.78,"p":0.807},{"k":"L4","s":"5 repr.","x":3.815,"p":0.875},{"k":"L4","s":"5 repr.","x":3.85,"p":0.916},{"k":"L4","s":"5 repr.","x":3.88,"p":0.936},{"k":"L4","s":"5 repr.","x":3.912,"p":0.956},{"k":"L4","s":"5 repr.","x":3.945,"p":0.97},{"k":"L4","s":"5 repr.","x":3.978,"p":0.977},{"k":"L4","s":"5 repr.","x":4.14,"p":1},
{"k":"L4","s":"10 repr.","x":3.1,"p":0},{"k":"L4","s":"10 repr.","x":3.1,"p":0.016},{"k":"L4","s":"10 repr.","x":3.327,"p":0.044},{"k":"L4","s":"10 repr.","x":3.36,"p":0.084},{"k":"L4","s":"10 repr.","x":3.39,"p":0.112},{"k":"L4","s":"10 repr.","x":3.41,"p":0.139},{"k":"L4","s":"10 repr.","x":3.422,"p":0.166},{"k":"L4","s":"10 repr.","x":3.48,"p":0.193},{"k":"L4","s":"10 repr.","x":3.505,"p":0.262},{"k":"L4","s":"10 repr.","x":3.52,"p":0.316},{"k":"L4","s":"10 repr.","x":3.54,"p":0.357},{"k":"L4","s":"10 repr.","x":3.57,"p":0.398},{"k":"L4","s":"10 repr.","x":3.59,"p":0.439},{"k":"L4","s":"10 repr.","x":3.6,"p":0.48},{"k":"L4","s":"10 repr.","x":3.635,"p":0.548},{"k":"L4","s":"10 repr.","x":3.655,"p":0.582},{"k":"L4","s":"10 repr.","x":3.685,"p":0.629},{"k":"L4","s":"10 repr.","x":3.72,"p":0.684},{"k":"L4","s":"10 repr.","x":3.75,"p":0.752},{"k":"L4","s":"10 repr.","x":3.785,"p":0.807},{"k":"L4","s":"10 repr.","x":3.815,"p":0.875},{"k":"L4","s":"10 repr.","x":3.85,"p":0.916},{"k":"L4","s":"10 repr.","x":3.88,"p":0.936},{"k":"L4","s":"10 repr.","x":3.915,"p":0.956},{"k":"L4","s":"10 repr.","x":3.95,"p":0.97},{"k":"L4","s":"10 repr.","x":3.98,"p":0.977},{"k":"L4","s":"10 repr.","x":4.16,"p":1},
{"k":"R4","s":"3 repr.","x":3.0,"p":0},{"k":"R4","s":"3 repr.","x":3.0,"p":0.016},{"k":"R4","s":"3 repr.","x":3.07,"p":0.057},{"k":"R4","s":"3 repr.","x":3.15,"p":0.075},{"k":"R4","s":"3 repr.","x":3.2,"p":0.112},{"k":"R4","s":"3 repr.","x":3.26,"p":0.139},{"k":"R4","s":"3 repr.","x":3.3,"p":0.166},{"k":"R4","s":"3 repr.","x":3.345,"p":0.221},{"k":"R4","s":"3 repr.","x":3.39,"p":0.275},{"k":"R4","s":"3 repr.","x":3.42,"p":0.33},{"k":"R4","s":"3 repr.","x":3.46,"p":0.371},{"k":"R4","s":"3 repr.","x":3.49,"p":0.425},{"k":"R4","s":"3 repr.","x":3.52,"p":0.48},{"k":"R4","s":"3 repr.","x":3.57,"p":0.52},{"k":"R4","s":"3 repr.","x":3.62,"p":0.575},{"k":"R4","s":"3 repr.","x":3.665,"p":0.629},{"k":"R4","s":"3 repr.","x":3.715,"p":0.684},{"k":"R4","s":"3 repr.","x":3.75,"p":0.738},{"k":"R4","s":"3 repr.","x":3.78,"p":0.793},{"k":"R4","s":"3 repr.","x":3.815,"p":0.847},{"k":"R4","s":"3 repr.","x":3.845,"p":0.902},{"k":"R4","s":"3 repr.","x":3.88,"p":0.956},{"k":"R4","s":"3 repr.","x":3.975,"p":0.977},{"k":"R4","s":"3 repr.","x":4.17,"p":0.984},{"k":"R4","s":"3 repr.","x":4.195,"p":1},
{"k":"R4","s":"5 repr.","x":3.18,"p":0},{"k":"R4","s":"5 repr.","x":3.18,"p":0.016},{"k":"R4","s":"5 repr.","x":3.33,"p":0.044},{"k":"R4","s":"5 repr.","x":3.35,"p":0.112},{"k":"R4","s":"5 repr.","x":3.37,"p":0.19},{"k":"R4","s":"5 repr.","x":3.39,"p":0.24},{"k":"R4","s":"5 repr.","x":3.43,"p":0.3},{"k":"R4","s":"5 repr.","x":3.47,"p":0.34},{"k":"R4","s":"5 repr.","x":3.51,"p":0.39},{"k":"R4","s":"5 repr.","x":3.545,"p":0.44},{"k":"R4","s":"5 repr.","x":3.59,"p":0.5},{"k":"R4","s":"5 repr.","x":3.63,"p":0.548},{"k":"R4","s":"5 repr.","x":3.652,"p":0.582},{"k":"R4","s":"5 repr.","x":3.682,"p":0.629},{"k":"R4","s":"5 repr.","x":3.716,"p":0.684},{"k":"R4","s":"5 repr.","x":3.75,"p":0.752},{"k":"R4","s":"5 repr.","x":3.782,"p":0.807},{"k":"R4","s":"5 repr.","x":3.815,"p":0.875},{"k":"R4","s":"5 repr.","x":3.848,"p":0.916},{"k":"R4","s":"5 repr.","x":3.88,"p":0.936},{"k":"R4","s":"5 repr.","x":3.912,"p":0.956},{"k":"R4","s":"5 repr.","x":3.946,"p":0.97},{"k":"R4","s":"5 repr.","x":3.978,"p":0.977},{"k":"R4","s":"5 repr.","x":4.15,"p":1},
{"k":"R4","s":"10 repr.","x":3.19,"p":0},{"k":"R4","s":"10 repr.","x":3.19,"p":0.016},{"k":"R4","s":"10 repr.","x":3.328,"p":0.044},{"k":"R4","s":"10 repr.","x":3.36,"p":0.084},{"k":"R4","s":"10 repr.","x":3.39,"p":0.112},{"k":"R4","s":"10 repr.","x":3.405,"p":0.139},{"k":"R4","s":"10 repr.","x":3.424,"p":0.159},{"k":"R4","s":"10 repr.","x":3.456,"p":0.166},{"k":"R4","s":"10 repr.","x":3.488,"p":0.193},{"k":"R4","s":"10 repr.","x":3.505,"p":0.262},{"k":"R4","s":"10 repr.","x":3.521,"p":0.316},{"k":"R4","s":"10 repr.","x":3.538,"p":0.357},{"k":"R4","s":"10 repr.","x":3.57,"p":0.398},{"k":"R4","s":"10 repr.","x":3.587,"p":0.439},{"k":"R4","s":"10 repr.","x":3.603,"p":0.48},{"k":"R4","s":"10 repr.","x":3.635,"p":0.548},{"k":"R4","s":"10 repr.","x":3.652,"p":0.582},{"k":"R4","s":"10 repr.","x":3.684,"p":0.629},{"k":"R4","s":"10 repr.","x":3.718,"p":0.684},{"k":"R4","s":"10 repr.","x":3.75,"p":0.752},{"k":"R4","s":"10 repr.","x":3.783,"p":0.807},{"k":"R4","s":"10 repr.","x":3.815,"p":0.875},{"k":"R4","s":"10 repr.","x":3.848,"p":0.916},{"k":"R4","s":"10 repr.","x":3.88,"p":0.936},{"k":"R4","s":"10 repr.","x":3.913,"p":0.956},{"k":"R4","s":"10 repr.","x":3.946,"p":0.97},{"k":"R4","s":"10 repr.","x":3.978,"p":0.977},{"k":"R4","s":"10 repr.","x":4.15,"p":1}
]},
"data": {"name": "d"},
"spacing": 10,
"resolve": {"scale": {"color": "independent", "strokeDash": "independent", "strokeWidth": "independent"}, "legend": {"color": "independent", "strokeDash": "independent"}},
"hconcat": [
{"columns": 2, "spacing": {"row": 32, "column": 19}, "bounds": "flush",
 "resolve": {"scale": {"color": "independent", "strokeDash": "independent", "strokeWidth": "independent"}, "legend": {"color": "independent", "strokeDash": "independent"}},
 "concat": [
  {"width": 259, "height": 245, "title": {"text": "Ensemble 1", "dy": 8},
   "transform": [{"filter": "datum.k==='1'||datum.k==='L1'"}],
   "mark": {"type": "line", "interpolate": "step-after", "clip": true},
   "encoding": {
    "x": {"field": "x", "type": "quantitative", "scale": {"domain": [2, 4.5], "nice": false, "zero": false}, "axis": {"values": [2, 2.5, 3, 3.5, 4, 4.5], "labels": false, "title": null}},
    "y": {"field": "p", "type": "quantitative", "scale": {"domain": [0, 1], "nice": false}, "axis": {"values": [0, 0.2, 0.4, 0.6, 0.8, 1], "format": "~g", "title": "Probability", "labelPadding": 6, "titlePadding": 8}},
    "color": {"field": "s", "type": "nominal", "scale": {"domain": ["no opt", "full", "3 repr.", "5 repr.", "10 repr."], "range": ["#a0a0a0", "#000000", "#ff1a1a", "#1a5cff", "#1ae64d"]}, "legend": null},
    "strokeDash": {"field": "s", "type": "nominal", "scale": {"domain": ["no opt", "full", "3 repr.", "5 repr.", "10 repr."], "range": [[1, 0], [1, 0], [10, 6], [10, 6], [10, 6]]}, "legend": null},
    "strokeWidth": {"field": "s", "type": "nominal", "scale": {"domain": ["no opt", "full", "3 repr.", "5 repr.", "10 repr."], "range": [3, 3, 2.5, 2.5, 2.5]}, "legend": null},
    "order": {"value": null}
   }},
  {"width": 259, "height": 245, "title": "Ensemble 2",
   "transform": [{"filter": "datum.k==='2'||datum.k==='L2'"}],
   "mark": {"type": "line", "interpolate": "step-after", "clip": true},
   "encoding": {
    "x": {"field": "x", "type": "quantitative", "scale": {"domain": [2, 4.5], "nice": false, "zero": false}, "axis": {"values": [2, 2.5, 3, 3.5, 4, 4.5], "labels": false, "title": null}},
    "y": {"field": "p", "type": "quantitative", "scale": {"domain": [0, 1], "nice": false}, "axis": {"values": [0, 0.2, 0.4, 0.6, 0.8, 1], "labels": false, "title": null}},
    "color": {"field": "s", "type": "nominal", "scale": {"domain": ["no opt", "full", "3 repr.", "5 repr.", "10 repr."], "range": ["#a0a0a0", "#000000", "#ff1a1a", "#1a5cff", "#1ae64d"]}, "legend": null},
    "strokeDash": {"field": "s", "type": "nominal", "scale": {"domain": ["no opt", "full", "3 repr.", "5 repr.", "10 repr."], "range": [[1, 0], [1, 0], [10, 6], [10, 6], [10, 6]]}, "legend": null},
    "strokeWidth": {"field": "s", "type": "nominal", "scale": {"domain": ["no opt", "full", "3 repr.", "5 repr.", "10 repr."], "range": [3, 3, 2.5, 2.5, 2.5]}, "legend": null},
    "order": {"value": null}
   }},
  {"width": 259, "height": 245, "title": {"text": "Ensemble 3", "dy": 8},
   "layer": [
    {"transform": [{"filter": "datum.k==='3'||datum.k==='L3'"}],
     "mark": {"type": "line", "interpolate": "step-after", "clip": true},
     "encoding": {
      "x": {"field": "x", "type": "quantitative", "scale": {"domain": [2, 4.5], "nice": false, "zero": false}, "axis": {"values": [2, 2.5, 3, 3.5, 4, 4.5], "format": "~g", "title": "NPV", "labelPadding": 6, "titlePadding": 11}},
      "y": {"field": "p", "type": "quantitative", "scale": {"domain": [0, 1], "nice": false}, "axis": {"values": [0, 0.2, 0.4, 0.6, 0.8, 1], "format": "~g", "title": "Probability", "labelPadding": 6, "titlePadding": 8}},
      "color": {"field": "s", "type": "nominal", "scale": {"domain": ["no opt", "full", "3 repr.", "5 repr.", "10 repr."], "range": ["#a0a0a0", "#000000", "#ff1a1a", "#1a5cff", "#1ae64d"]}, "legend": null},
      "strokeDash": {"field": "s", "type": "nominal", "scale": {"domain": ["no opt", "full", "3 repr.", "5 repr.", "10 repr."], "range": [[1, 0], [1, 0], [10, 6], [10, 6], [10, 6]]}, "legend": null},
      "strokeWidth": {"field": "s", "type": "nominal", "scale": {"domain": ["no opt", "full", "3 repr.", "5 repr.", "10 repr."], "range": [3, 3, 2.5, 2.5, 2.5]}, "legend": null},
      "order": {"value": null}
     }},
    {"data": {"values": [{"t": "×10⁷"}]},
     "mark": {"type": "text", "align": "left", "baseline": "middle", "fontSize": 20, "color": "#555555"},
     "encoding": {"x": {"datum": 4.1, "type": "quantitative"}, "y": {"datum": -0.21, "type": "quantitative"}, "text": {"field": "t"}}}
   ]},
  {"width": 259, "height": 245, "title": "Ensemble 4",
   "layer": [
    {"transform": [{"filter": "datum.k==='4'||datum.k==='L4'"}],
     "mark": {"type": "line", "interpolate": "step-after", "clip": true},
     "encoding": {
      "x": {"field": "x", "type": "quantitative", "scale": {"domain": [2, 4.5], "nice": false, "zero": false}, "axis": {"values": [2, 2.5, 3, 3.5, 4, 4.5], "format": "~g", "title": "NPV", "labelPadding": 6, "titlePadding": 11}},
      "y": {"field": "p", "type": "quantitative", "scale": {"domain": [0, 1], "nice": false}, "axis": {"values": [0, 0.2, 0.4, 0.6, 0.8, 1], "labels": false, "title": null}},
      "color": {"field": "s", "type": "nominal", "scale": {"domain": ["no opt", "full", "3 repr.", "5 repr.", "10 repr."], "range": ["#a0a0a0", "#000000", "#ff1a1a", "#1a5cff", "#1ae64d"]}, "legend": {"orient": "none", "legendX": 18, "legendY": 23, "title": null}},
      "strokeDash": {"field": "s", "type": "nominal", "scale": {"domain": ["no opt", "full", "3 repr.", "5 repr.", "10 repr."], "range": [[1, 0], [1, 0], [10, 6], [10, 6], [10, 6]]}, "legend": {"orient": "none", "legendX": 18, "legendY": 23, "title": null}},
      "strokeWidth": {"field": "s", "type": "nominal", "scale": {"domain": ["no opt", "full", "3 repr.", "5 repr.", "10 repr."], "range": [3, 3, 2.5, 2.5, 2.5]}, "legend": null},
      "order": {"value": null}
     }},
    {"data": {"values": [{"t": "×10⁷"}]},
     "mark": {"type": "text", "align": "left", "baseline": "middle", "fontSize": 20, "color": "#555555"},
     "encoding": {"x": {"datum": 4.1, "type": "quantitative"}, "y": {"datum": -0.21, "type": "quantitative"}, "text": {"field": "t"}}}
   ]}
 ]},
{"columns": 2, "spacing": {"row": 32, "column": 19}, "bounds": "flush",
 "resolve": {"scale": {"color": "independent", "strokeDash": "independent", "strokeWidth": "independent"}, "legend": {"color": "independent", "strokeDash": "independent"}},
 "concat": [
  {"width": 259, "height": 245, "title": {"text": "Ensemble 1", "dy": 8},
   "transform": [{"filter": "datum.k==='1'||datum.k==='R1'"}],
   "mark": {"type": "line", "interpolate": "step-after", "clip": true},
   "encoding": {
    "x": {"field": "x", "type": "quantitative", "scale": {"domain": [2, 4.5], "nice": false, "zero": false}, "axis": {"values": [2, 2.5, 3, 3.5, 4, 4.5], "labels": false, "title": null}},
    "y": {"field": "p", "type": "quantitative", "scale": {"domain": [0, 1], "nice": false}, "axis": {"values": [0, 0.2, 0.4, 0.6, 0.8, 1], "format": "~g", "title": "Probability", "labelPadding": 6, "titlePadding": 8}},
    "color": {"field": "s", "type": "nominal", "scale": {"domain": ["no opt", "full", "3 repr.", "5 repr.", "10 repr."], "range": ["#a0a0a0", "#000000", "#ff1a1a", "#1a5cff", "#1ae64d"]}, "legend": null},
    "strokeDash": {"field": "s", "type": "nominal", "scale": {"domain": ["no opt", "full", "3 repr.", "5 repr.", "10 repr."], "range": [[1, 0], [1, 0], [10, 6], [10, 6], [10, 6]]}, "legend": null},
    "strokeWidth": {"field": "s", "type": "nominal", "scale": {"domain": ["no opt", "full", "3 repr.", "5 repr.", "10 repr."], "range": [3, 3, 2.5, 2.5, 2.5]}, "legend": null},
    "order": {"value": null}
   }},
  {"width": 259, "height": 245, "title": "Ensemble 2",
   "transform": [{"filter": "datum.k==='2'||datum.k==='R2'"}],
   "mark": {"type": "line", "interpolate": "step-after", "clip": true},
   "encoding": {
    "x": {"field": "x", "type": "quantitative", "scale": {"domain": [2, 4.5], "nice": false, "zero": false}, "axis": {"values": [2, 2.5, 3, 3.5, 4, 4.5], "labels": false, "title": null}},
    "y": {"field": "p", "type": "quantitative", "scale": {"domain": [0, 1], "nice": false}, "axis": {"values": [0, 0.2, 0.4, 0.6, 0.8, 1], "labels": false, "title": null}},
    "color": {"field": "s", "type": "nominal", "scale": {"domain": ["no opt", "full", "3 repr.", "5 repr.", "10 repr."], "range": ["#a0a0a0", "#000000", "#ff1a1a", "#1a5cff", "#1ae64d"]}, "legend": null},
    "strokeDash": {"field": "s", "type": "nominal", "scale": {"domain": ["no opt", "full", "3 repr.", "5 repr.", "10 repr."], "range": [[1, 0], [1, 0], [10, 6], [10, 6], [10, 6]]}, "legend": null},
    "strokeWidth": {"field": "s", "type": "nominal", "scale": {"domain": ["no opt", "full", "3 repr.", "5 repr.", "10 repr."], "range": [3, 3, 2.5, 2.5, 2.5]}, "legend": null},
    "order": {"value": null}
   }},
  {"width": 259, "height": 245, "title": {"text": "Ensemble 3", "dy": 8},
   "layer": [
    {"transform": [{"filter": "datum.k==='3'||datum.k==='R3'"}],
     "mark": {"type": "line", "interpolate": "step-after", "clip": true},
     "encoding": {
      "x": {"field": "x", "type": "quantitative", "scale": {"domain": [2, 4.5], "nice": false, "zero": false}, "axis": {"values": [2, 2.5, 3, 3.5, 4, 4.5], "format": "~g", "title": "NPV", "labelPadding": 6, "titlePadding": 11}},
      "y": {"field": "p", "type": "quantitative", "scale": {"domain": [0, 1], "nice": false}, "axis": {"values": [0, 0.2, 0.4, 0.6, 0.8, 1], "format": "~g", "title": "Probability", "labelPadding": 6, "titlePadding": 8}},
      "color": {"field": "s", "type": "nominal", "scale": {"domain": ["no opt", "full", "3 repr.", "5 repr.", "10 repr."], "range": ["#a0a0a0", "#000000", "#ff1a1a", "#1a5cff", "#1ae64d"]}, "legend": null},
      "strokeDash": {"field": "s", "type": "nominal", "scale": {"domain": ["no opt", "full", "3 repr.", "5 repr.", "10 repr."], "range": [[1, 0], [1, 0], [10, 6], [10, 6], [10, 6]]}, "legend": null},
      "strokeWidth": {"field": "s", "type": "nominal", "scale": {"domain": ["no opt", "full", "3 repr.", "5 repr.", "10 repr."], "range": [3, 3, 2.5, 2.5, 2.5]}, "legend": null},
      "order": {"value": null}
     }},
    {"data": {"values": [{"t": "×10⁷"}]},
     "mark": {"type": "text", "align": "left", "baseline": "middle", "fontSize": 20, "color": "#555555"},
     "encoding": {"x": {"datum": 4.1, "type": "quantitative"}, "y": {"datum": -0.21, "type": "quantitative"}, "text": {"field": "t"}}}
   ]},
  {"width": 259, "height": 245, "title": "Ensemble 4",
   "layer": [
    {"transform": [{"filter": "datum.k==='4'||datum.k==='R4'"}],
     "mark": {"type": "line", "interpolate": "step-after", "clip": true},
     "encoding": {
      "x": {"field": "x", "type": "quantitative", "scale": {"domain": [2, 4.5], "nice": false, "zero": false}, "axis": {"values": [2, 2.5, 3, 3.5, 4, 4.5], "format": "~g", "title": "NPV", "labelPadding": 6, "titlePadding": 11}},
      "y": {"field": "p", "type": "quantitative", "scale": {"domain": [0, 1], "nice": false}, "axis": {"values": [0, 0.2, 0.4, 0.6, 0.8, 1], "labels": false, "title": null}},
      "color": {"field": "s", "type": "nominal", "scale": {"domain": ["no opt", "full", "3 repr.", "5 repr.", "10 repr."], "range": ["#a0a0a0", "#000000", "#ff1a1a", "#1a5cff", "#1ae64d"]}, "legend": {"orient": "none", "legendX": 18, "legendY": 23, "title": null}},
      "strokeDash": {"field": "s", "type": "nominal", "scale": {"domain": ["no opt", "full", "3 repr.", "5 repr.", "10 repr."], "range": [[1, 0], [1, 0], [10, 6], [10, 6], [10, 6]]}, "legend": {"orient": "none", "legendX": 18, "legendY": 23, "title": null}},
      "strokeWidth": {"field": "s", "type": "nominal", "scale": {"domain": ["no opt", "full", "3 repr.", "5 repr.", "10 repr."], "range": [3, 3, 2.5, 2.5, 2.5]}, "legend": null},
      "order": {"value": null}
     }},
    {"data": {"values": [{"t": "×10⁷"}]},
     "mark": {"type": "text", "align": "left", "baseline": "middle", "fontSize": 20, "color": "#555555"},
     "encoding": {"x": {"datum": 4.1, "type": "quantitative"}, "y": {"datum": -0.21, "type": "quantitative"}, "text": {"field": "t"}}}
   ]}
 ]}
],
"config": {
 "font": "Liberation Sans",
 "view": {"stroke": "#505050", "strokeWidth": 1.5},
 "axis": {"grid": true, "gridColor": "#e2e2e2", "gridWidth": 1, "ticks": false, "domain": false, "labelFontSize": 17, "labelColor": "#333333", "titleFontSize": 21, "titleColor": "#262626", "titleFontWeight": "normal", "labelFlush": false, "labelOverlap": false},
 "title": {"fontSize": 19, "fontWeight": "bold", "color": "#111111", "offset": 0.5},
 "legend": {"fillColor": "white", "strokeColor": "#262626", "padding": 5, "labelFontSize": 18, "labelColor": "#000000", "symbolType": "M-1,0H6.25", "symbolSize": 256, "symbolStrokeWidth": 3, "symbolOffset": 2, "rowPadding": 3.5, "labelOffset": 54}
}
}
